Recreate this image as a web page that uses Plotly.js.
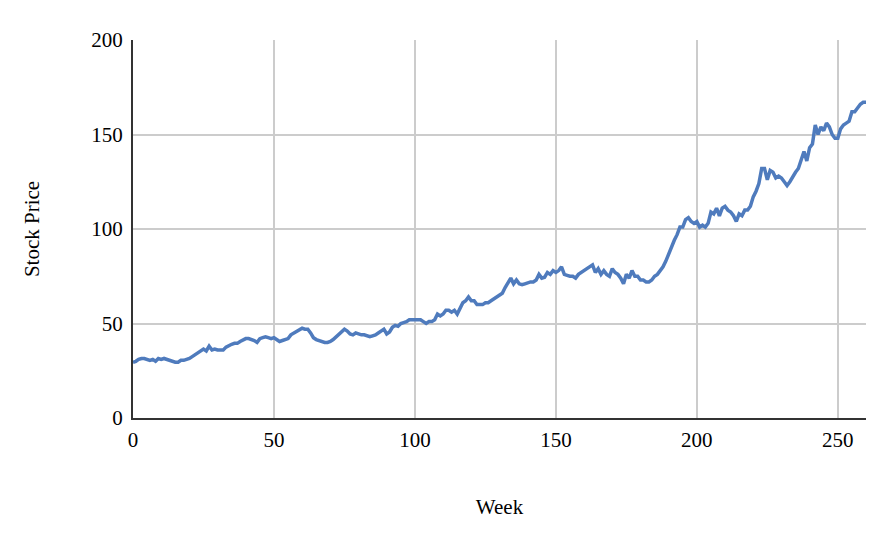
<!DOCTYPE html>
<html>
<head>
<script src="https://cdn.plot.ly/plotly-3.0.1.min.js"></script>
<style>body{margin:0;background:#fff}</style>
</head>
<body>
<div id="chart" style="width:888px;height:534px"></div>
<script>
// weekly closing prices, week 0 .. 260
var prices = [
  29.5,30,31,31.5,31.5,31,30.5,31,30,31.5,
  31,31.5,31,30.5,30,29.5,29.5,30.5,30.5,31,
  31.5,32.5,33.5,34.5,35.5,36.5,35.5,38,36,36.5,
  36,36,36,37.5,38.5,39,39.5,39.5,40.5,41.5,
  42,42,41.5,41,40,42,42.5,43,42.5,42,
  42.5,41.5,40.5,41,41.5,42,44,45,46,47,
  47.5,47,47,45,42.5,41.5,41,40.5,40,40,
  40.5,41.5,43,44,45.5,47,46,44.5,44,45,
  44.5,44,44,43.5,43,43.5,44,45,46,47,
  44.5,45.5,48,49,48.5,50,50.5,51,52,52,
  52,52,52,51,50,51,51,52,55,54,
  55,57,57,56,57,55,58,61,62,64,
  62,62,60,60,60,61,61,62,63,64,
  65,66,69,72,74,71,73,71,70.5,71,
  71.5,72,72,73,76,74,74.5,77,76,78,
  77,78,80,76,75.5,75,75,74,76,77,
  78,79,80,81,77,79,76,78,76,75,
  79,77,76,74,71,76,74,78,75,75,
  73,73,72,72,73,75,76,78,80,83,
  87,90,94,97,101,101,105,106,104,103,
  104,101,102,101,103,109,108,111,107,111,
  112,110,109,107,104,108,107,110,110,112,
  117,120,124,132,132,126,131,130,127,128,
  127,125,123,125,128,130,132,137,141,136,
  143,145,155,150,154,152,156,154,150,148,
  148,153,155,156,157,162,162,164,166,167,
  167
];
var weeks = prices.map(function (p, i) { return i; });

var data = [{
  x: weeks,
  y: prices,
  type: "scatter",
  mode: "lines",
  line: { color: "#4f7bbd", width: 3.5 }
}];

var layout = {
  width: 888,
  height: 534,
  margin: { l: 133, r: 22, t: 40, b: 116 },
  paper_bgcolor: "#fff",
  plot_bgcolor: "#fff",
  font: { family: "Liberation Serif, Times New Roman, serif", size: 21, color: "#000" },
  showlegend: false,
  xaxis: {
    range: [0, 260],
    tickvals: [0, 50, 100, 150, 200, 250],
    showgrid: true, gridcolor: "#cccccc", gridwidth: 1.5,
    zeroline: false,
    showline: true, linecolor: "#333", linewidth: 2,
    ticks: "outside", ticklen: 2, tickcolor: "#fff",
    title: { text: "Week", font: { size: 21 }, standoff: 48 }
  },
  yaxis: {
    range: [0, 200],
    tickvals: [0, 50, 100, 150, 200],
    showgrid: true, gridcolor: "#cccccc", gridwidth: 1.5,
    zeroline: false,
    showline: true, linecolor: "#333", linewidth: 2,
    ticks: "outside", ticklen: 4, tickcolor: "#fff",
    title: { text: "Stock Price", font: { size: 21 }, standoff: 46 }
  }
};

Plotly.newPlot("chart", data, layout, { displayModeBar: false });
</script>
</body>
</html>
